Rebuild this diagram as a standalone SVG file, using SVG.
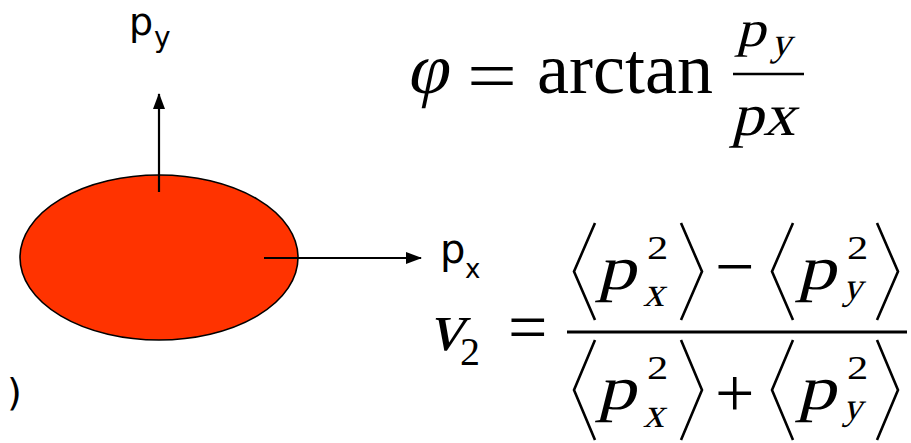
<svg xmlns="http://www.w3.org/2000/svg" width="911" height="443" viewBox="0 0 911 443">
<style>
.sans{font-family:"DejaVu Sans","Verdana",sans-serif;fill:#000}
.m{font-family:"Liberation Serif","Times New Roman",serif;fill:#000}
.br{fill:none;stroke:#000;stroke-width:2.6;stroke-linejoin:miter}
.ax{stroke:#000;stroke-width:2.2;fill:none}
</style>
<defs>
<marker id="ah" viewBox="0 0 16 12" refX="15" refY="6" markerWidth="16" markerHeight="12" markerUnits="userSpaceOnUse" orient="auto">
<path d="M0,0 L16,6 L0,12 Z" fill="#000"/>
</marker>
</defs>
<rect width="911" height="443" fill="#fff"/>
<g id="ellipse">
<ellipse cx="159" cy="257.5" rx="139" ry="82.5" fill="#FF3300" stroke="#000" stroke-width="1.6"/>
</g>
<g id="connectors">
<line class="ax" x1="159" y1="192" x2="159" y2="94" marker-end="url(#ah)"/>
<line class="ax" x1="264" y1="258" x2="421" y2="258" marker-end="url(#ah)"/>
</g>
<g id="label-py">
<text class="sans" x="129" y="35" font-size="38">p</text>
<text class="sans" x="154" y="47" font-size="28">y</text>
</g>
<g id="label-px">
<text class="sans" x="440" y="263" font-size="40">p</text>
<text class="sans" x="465" y="278" font-size="26">x</text>
</g>
<g id="label-paren">
<text class="sans" x="7" y="405" font-size="38">)</text>
</g>
<g id="formula-phi">
<text class="m" transform="translate(406,93) skewX(-12)" font-size="72">φ</text>
<text class="m" x="467" y="100" font-size="72" textLength="50" lengthAdjust="spacingAndGlyphs">=</text>
<text class="m" x="537" y="93" font-size="72" textLength="176" lengthAdjust="spacingAndGlyphs">arctan</text>
<line x1="733" y1="74" x2="804" y2="74" stroke="#000" stroke-width="2.5"/>
<text class="m" transform="translate(736,46) skewX(-14) scale(1.15,1)" font-size="51">p</text>
<text class="m" transform="translate(771,55) skewX(-14)" font-size="40">y</text>
<text class="m" transform="translate(731,135) skewX(-14)" font-size="60" textLength="64" lengthAdjust="spacingAndGlyphs">px</text>
</g>
<g id="formula-v2">
<text class="m" transform="translate(428,350) skewX(-14)" font-size="70">v</text>
<text class="m" x="460" y="365" font-size="40">2</text>
<text class="m" x="508" y="351" font-size="70">=</text>
<line x1="567" y1="332" x2="907" y2="332" stroke="#000" stroke-width="3"/>
<!-- numerator -->
<polyline class="br" points="595,223 574,271.5 595,320"/>
<text class="m" transform="translate(597,289) skewX(-14) scale(1.25,1)" font-size="62">p</text>
<text class="m" transform="translate(647,259) scale(1.25,1)" font-size="34">2</text>
<text class="m" transform="translate(643,306) skewX(-14)" font-size="42">x</text>
<polyline class="br" points="681,223 702,271.5 681,320"/>
<text class="m" x="715" y="290" font-size="70">−</text>
<polyline class="br" points="793,223 772,271.5 793,320"/>
<text class="m" transform="translate(797,289) skewX(-14) scale(1.25,1)" font-size="62">p</text>
<text class="m" transform="translate(847,259) scale(1.25,1)" font-size="34">2</text>
<text class="m" transform="translate(843,299) skewX(-14)" font-size="38">y</text>
<polyline class="br" points="877,223 898,271.5 877,320"/>
<!-- denominator -->
<polyline class="br" points="595,340 574,390 595,440"/>
<text class="m" transform="translate(597,409) skewX(-14) scale(1.25,1)" font-size="62">p</text>
<text class="m" transform="translate(647,379) scale(1.25,1)" font-size="34">2</text>
<text class="m" transform="translate(643,427) skewX(-14)" font-size="42">x</text>
<polyline class="br" points="681,340 702,390 681,440"/>
<text class="m" x="715" y="417" font-size="70">+</text>
<polyline class="br" points="793,340 772,390 793,440"/>
<text class="m" transform="translate(797,409) skewX(-14) scale(1.25,1)" font-size="62">p</text>
<text class="m" transform="translate(847,379) scale(1.25,1)" font-size="34">2</text>
<text class="m" transform="translate(843,419) skewX(-14)" font-size="38">y</text>
<polyline class="br" points="877,340 898,390 877,440"/>
</g>
</svg>
